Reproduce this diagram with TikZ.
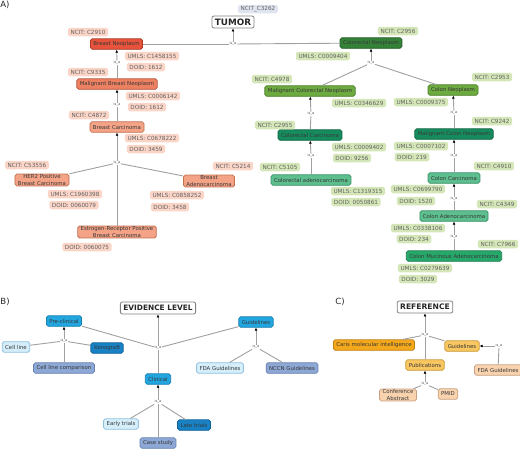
\documentclass[tikz,border=0pt]{standalone}
\usepackage{fontspec}
\setmainfont{DejaVu Sans}
\usetikzlibrary{arrows.meta}
% red family
\definecolor{rAf}{HTML}{E8533B}\definecolor{rAd}{HTML}{A93A26}
\definecolor{rBf}{HTML}{EE8062}\definecolor{rBd}{HTML}{B5533A}
\definecolor{rCf}{HTML}{F4A387}\definecolor{rCd}{HTML}{C07050}
\definecolor{rL}{HTML}{FBD5C7}
% green family
\definecolor{gAf}{HTML}{348238}\definecolor{gAd}{HTML}{1F5A28}
\definecolor{gBf}{HTML}{6DAA3F}\definecolor{gBd}{HTML}{4A7E28}
\definecolor{gCf}{HTML}{168C5E}\definecolor{gCd}{HTML}{0C6440}
\definecolor{gDf}{HTML}{5DBE8E}\definecolor{gDd}{HTML}{3A9068}
\definecolor{gEf}{HTML}{27A86B}\definecolor{gEd}{HTML}{1A7A4C}
\definecolor{gL}{HTML}{D5E7B8}
% blue family
\definecolor{bAf}{HTML}{22A6E0}\definecolor{bAd}{HTML}{1680B0}
\definecolor{bBf}{HTML}{1882C4}\definecolor{bBd}{HTML}{10609A}
\definecolor{bCf}{HTML}{D5EEFA}\definecolor{bCd}{HTML}{8CC0DC}
\definecolor{bDf}{HTML}{8EA8D6}\definecolor{bDd}{HTML}{6580B0}
% orange family
\definecolor{oAf}{HTML}{F4A81C}\definecolor{oAd}{HTML}{C08010}
\definecolor{oBf}{HTML}{F9C660}\definecolor{oBd}{HTML}{C89A38}
\definecolor{oCf}{HTML}{F9D3AE}\definecolor{oCd}{HTML}{C8A080}
\definecolor{grL}{HTML}{DFE4EE}
\definecolor{linkc}{HTML}{A0A0A0}
\tikzset{
  box/.style={draw, rounded corners=1.8pt, line width=0.75pt, inner xsep=3pt, inner ysep=0.8pt,
    minimum height=10.5pt, font=\fontsize{5.4}{6.2}\selectfont, text=black!78, align=center},
  chip/.style={rounded corners=1.8pt, inner xsep=2.6pt, inner ysep=0pt, minimum height=8.5pt,
    font=\fontsize{5.7}{6.5}\selectfont, text=black!62},
  isa/.style={font=\fontsize{3.5}{4}\selectfont, text=black!70, fill=white, inner sep=0.4pt},
  titlebox/.style={draw=black!50, fill=white, rounded corners=2pt, line width=0.8pt,
    inner xsep=3pt, inner ysep=0.5pt, minimum height=12pt, text=black!85},
  panel/.style={font=\fontsize{8.5}{9}\selectfont, text=black!85},
  link/.style={draw=linkc, line width=0.9pt},
  up/.style={link, -{Latex[length=3pt,width=2.8pt,color=black]}},
  rA/.style={box, fill=rAf, draw=rAd}, rB/.style={box, fill=rBf, draw=rBd}, rC/.style={box, fill=rCf, draw=rCd},
  gA/.style={box, fill=gAf, draw=gAd}, gB/.style={box, fill=gBf, draw=gBd}, gC/.style={box, fill=gCf, draw=gCd},
  gD/.style={box, fill=gDf, draw=gDd}, gE/.style={box, fill=gEf, draw=gEd},
  bA/.style={box, fill=bAf, draw=bAd}, bB/.style={box, fill=bBf, draw=bBd},
  bC/.style={box, fill=bCf, draw=bCd}, bD/.style={box, fill=bDf, draw=bDd},
  oA/.style={box, fill=oAf, draw=oAd}, oB/.style={box, fill=oBf, draw=oBd}, oC/.style={box, fill=oCf, draw=oCd},
  rLab/.style={chip, fill=rL}, gLab/.style={chip, fill=gL}, grLab/.style={chip, fill=grL}
}
\begin{document}
\begin{tikzpicture}[x=1pt,y=-1pt]
\useasboundingbox (0,0) rectangle (520,450);
% ===================== A =====================
\node[panel] (pA) at (5,5) {A)};
\node[grLab] (ncitT) at (258,9) {NCIT\_C3262};
\node[titlebox, font=\fontsize{8.8}{10}\selectfont\bfseries] (tumor) at (233,22) {TUMOR};
\node[isa] (i0) at (233,44) {is\_a};
% breast
\node[rA] (bn) at (116.5,44) {Breast Neoplasm};
\node[rLab] (bnN) at (88,32) {NCIT: C2910};
\node[rLab] (bnU) at (152,56) {UMLS: C1458155};
\node[rLab] (bnD) at (146,67) {DOID: 1612};
\node[isa] (i1) at (117,63) {is\_a};
\node[rB] (mbn) at (117,84) {Malignant Breast Neoplasm};
\node[rLab] (mbnN) at (88,72) {NCIT: C9335};
\node[rLab] (mbnU) at (153,96) {UMLS: C0006142};
\node[rLab] (mbnD) at (147,107) {DOID: 1612};
\node[isa] (i2) at (117,105) {is\_a};
\node[rC] (bc) at (117,127) {Breast Carcinoma};
\node[rLab] (bcN) at (89,115) {NCIT: C4872};
\node[rLab] (bcU) at (152,138) {UMLS: C0678222};
\node[rLab] (bcD) at (146,149) {DOID: 3459};
\node[isa] (i3) at (117,163) {is\_a};
\node[rC] (her) at (42,180) {HER2 Positive\\Breast Carcinoma};
\node[rLab] (herN) at (27,165) {NCIT: C53556};
\node[rLab] (herU) at (75,194) {UMLS: C1960398};
\node[rLab] (herD) at (74,205) {DOID: 0060079};
\node[rC] (ba) at (209,181) {Breast\\Adenocarcinoma};
\node[rLab] (baN) at (233,166) {NCIT: C5214};
\node[rLab] (baU) at (177,195) {UMLS: C0858252};
\node[rLab] (baD) at (170,207) {DOID: 3458};
\node[rC] (er) at (117,232) {Estrogen-Receptor Positive\\Breast Carcinoma};
\node[rLab] (erD) at (87,247) {DOID: 0060075};
% colorectal
\node[gA] (cn) at (371,43) {Colorectal Neoplasm};
\node[gLab] (cnN) at (398,31) {NCIT: C2956};
\node[gLab] (cnU) at (323,56) {UMLS: C0009404};
\node[isa] (i4) at (371,63) {is\_a};
\node[gB] (mcn) at (310,91) {Malignant Colorectal Neoplasm};
\node[gLab] (mcnN) at (272,79) {NCIT: C4978};
\node[gLab] (mcnU) at (359,103) {UMLS: C0346629};
\node[gB] (con) at (453,90) {Colon Neoplasm};
\node[gLab] (conN) at (492,77) {NCIT: C2953};
\node[gLab] (conU) at (421,102) {UMLS: C0009375};
\node[isa] (i5) at (311,114) {is\_a};
\node[isa] (i6) at (454,113) {is\_a};
\node[gC] (crc) at (310,135) {Colorectal Carcinoma};
\node[gLab] (crcN) at (275,125) {NCIT: C2955};
\node[gLab] (crcU) at (359,147) {UMLS: C0009402};
\node[gLab] (crcD) at (352,158) {DOID: 9256};
\node[isa] (i7) at (311,156) {is\_a};
\node[gD] (cra) at (311,180) {Colorectal adenocarcinoma};
\node[gLab] (craN) at (280,167) {NCIT: C5105};
\node[gLab] (craU) at (358,191) {UMLS: C1319315};
\node[gLab] (craD) at (356,202) {DOID: 0050861};
\node[gC] (mcol) at (454,134) {Malignant Colon Neoplasm};
\node[gLab] (mcolN) at (492,121) {NCIT: C9242};
\node[gLab] (mcolU) at (421,146) {UMLS: C0007102};
\node[gLab] (mcolD) at (412,157) {DOID: 219};
\node[isa] (i8) at (454,156) {is\_a};
\node[gD] (cc) at (454,178) {Colon Carcinoma};
\node[gLab] (ccN) at (494,166) {NCIT: C4910};
\node[gLab] (ccU) at (418,189) {UMLS: C0699790};
\node[gLab] (ccD) at (416,201) {DOID: 1520};
\node[isa] (i9) at (454,199) {is\_a};
\node[gD] (ca) at (454,216) {Colon Adenocarcinoma};
\node[gLab] (caN) at (497,204) {NCIT: C4349};
\node[gLab] (caU) at (418,228) {UMLS: C0338106};
\node[gLab] (caD) at (414,239) {DOID: 234};
\node[isa] (i10) at (454,237) {is\_a};
\node[gE] (cma) at (454,256) {Colon Mucinous Adenocarcinoma};
\node[gLab] (cmaN) at (498,244) {NCIT: C7966};
\node[gLab] (cmaU) at (425,268) {UMLS: C0279639};
\node[gLab] (cmaD) at (418,279) {DOID: 3029};
% A connectors
\draw[up] (i0) -- (tumor);
\draw[link] (bn) -- (i0); \draw[link] (cn) -- (i0);
\draw[up] (i1) -- (bn); \draw[link] (mbn) -- (i1);
\draw[up] (i2) -- (mbn); \draw[link] (bc) -- (i2);
\draw[up] (i3) -- (bc); \draw[link] (her) -- (i3); \draw[link] (ba) -- (i3); \draw[link] (er) -- (i3);
\draw[up] (i4) -- (cn); \draw[link] (mcn) -- (i4); \draw[link] (con) -- (i4);
\draw[up] (i5) -- (mcn); \draw[link] (crc) -- (i5);
\draw[up] (i7) -- (crc); \draw[link] (cra) -- (i7);
\draw[up] (i6) -- (con); \draw[link] (mcol) -- (i6);
\draw[up] (i8) -- (mcol); \draw[link] (cc) -- (i8);
\draw[up] (i9) -- (cc); \draw[link] (ca) -- (i9);
\draw[up] (i10) -- (ca); \draw[link] (cma) -- (i10);
% ===================== B =====================
\node[panel] (pB) at (5,302) {B)};
\node[titlebox, font=\fontsize{7.4}{9}\selectfont\bfseries] (ev) at (158,308) {EVIDENCE LEVEL};
\node[isa] (j0) at (158,348) {is\_a};
\node[bA] (pre) at (64,321) {Pre-clinical};
\node[bA] (gdl) at (256,322) {Guidelines};
\node[bA] (cli) at (158,379) {Clinical};
\node[isa] (j1) at (64,341) {is\_a};
\node[bC] (cell) at (16,347) {Cell line};
\node[bB] (xen) at (107,348) {Xenograft};
\node[bD] (clc) at (64,368) {Cell line comparison};
\node[isa] (j2) at (256,347) {is\_a};
\node[bC] (fdaB) at (220,368) {FDA Guidelines};
\node[bD] (nccn) at (292,368) {NCCN Guidelines};
\node[isa] (j3) at (158,402) {is\_a};
\node[bC] (early) at (121,424) {Early trials};
\node[bB] (late) at (194,425) {Late trials};
\node[bD] (case) at (158,443) {Case study};
\draw[up] (j0) -- (ev);
\draw[link] (pre) -- (j0); \draw[link] (gdl) -- (j0); \draw[link] (cli) -- (j0);
\draw[up] (j1) -- (pre); \draw[link] (cell) -- (j1); \draw[link] (xen) -- (j1); \draw[link] (clc) -- (j1);
\draw[up] (j2) -- (gdl); \draw[link] (fdaB) -- (j2); \draw[link] (nccn) -- (j2);
\draw[up] (j3) -- (cli); \draw[link] (early) -- (j3); \draw[link] (late) -- (j3); \draw[link] (case) -- (j3);
% ===================== C =====================
\node[panel] (pC) at (340,302) {C)};
\node[titlebox, font=\fontsize{7.6}{9}\selectfont\bfseries] (ref) at (425,307) {REFERENCE};
\node[isa] (k0) at (425,335) {is\_a};
\node[oA] (caris) at (374,345) {Caris molecular intelligence};
\node[oB] (gdlC) at (462,346) {Guidelines};
\node[oB] (pub) at (425,365) {Publications};
\node[isa] (k1) at (499,346) {is\_a};
\node[oC] (fdaC) at (498,370) {FDA Guidelines};
\node[isa] (k2) at (425,384) {is\_a};
\node[oC] (conf) at (398,395) {Conference\\Abstract};
\node[oC] (pmid) at (448,394) {PMID};
\draw[up] (k0) -- (ref);
\draw[link] (caris) -- (k0); \draw[link] (gdlC) -- (k0); \draw[link] (pub) -- (k0);
\draw[up] (k1) -- (gdlC); \draw[link] (fdaC) -- (k1);
\draw[up] (k2) -- (pub); \draw[link] (conf) -- (k2); \draw[link] (pmid) -- (k2);
\end{tikzpicture}
\end{document}
